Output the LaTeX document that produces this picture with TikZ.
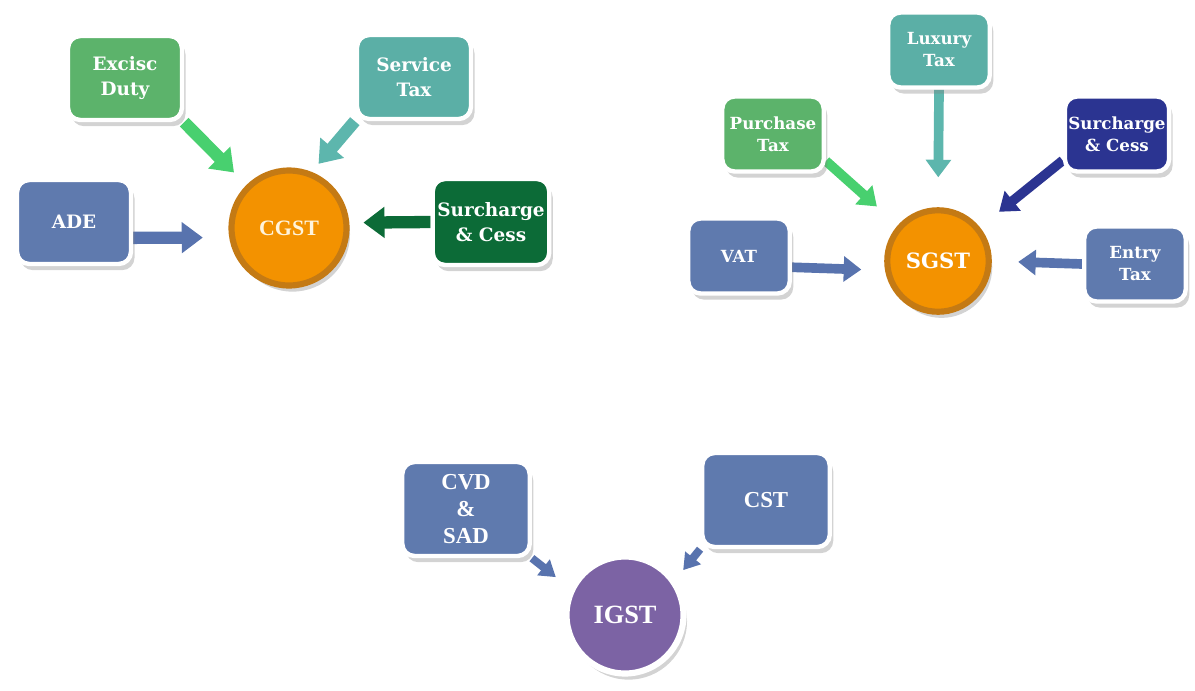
\documentclass[tikz,border=0pt]{standalone}
\usepackage{fontspec}
\usepackage{xcolor}
\usetikzlibrary{arrows.meta}
\usetikzlibrary{shadows}
\usetikzlibrary{backgrounds}
\newfontfamily\taxfont{DejaVu Serif}
\newfontfamily\romanfont{Liberation Serif}
\definecolor{taxgreen}{HTML}{5CB36B}
\definecolor{taxgreenarrow}{HTML}{48D06F}
\definecolor{taxteal}{HTML}{5BAFA6}
\definecolor{taxtealarrow}{HTML}{5DB6AD}
\definecolor{taxblue}{HTML}{5F7AAE}
\definecolor{taxbluearrow}{HTML}{5873AE}
\definecolor{cessgreen}{HTML}{0C6B37}
\definecolor{cessnavy}{HTML}{2B3491}
\definecolor{gstorange}{HTML}{F39200}
\definecolor{gstedge}{HTML}{C47A14}
\definecolor{gstpurple}{HTML}{7C63A4}
\definecolor{gsttext}{HTML}{FFF4DC}
\tikzset{
	taxbox/.style={rectangle, rounded corners=7pt, draw=white, line width=2.5pt, text=white, align=center, inner sep=2pt,
		drop shadow={shadow xshift=2pt, shadow yshift=-3.5pt, opacity=0.35}},
	cbox/.style={taxbox, minimum width=2.28cm, minimum height=1.68cm, font=\taxfont\bfseries\fontsize{10.5}{14}\selectfont},
	sbox/.style={taxbox, minimum width=2.03cm, minimum height=1.5cm, font=\taxfont\bfseries\fontsize{9.5}{12.5}\selectfont},
	ibox/.style={taxbox, minimum width=2.55cm, minimum height=1.88cm, font=\romanfont\bfseries\fontsize{13}{15.5}\selectfont},
	gst/.style={circle, line width=3.5pt, drop shadow={shadow xshift=2pt, shadow yshift=-3.5pt, opacity=0.35}},
	bigflow/.style={line width=7pt, -{Triangle[width=17pt,length=12pt]}},
	midflow/.style={line width=5.5pt, -{Triangle[width=14pt,length=10pt]}},
	smallflow/.style={line width=4.5pt, -{Triangle[width=11pt,length=9pt]}},
}

\begin{document}
\begin{tikzpicture}[x=0.02cm, y=-0.02cm]
	\useasboundingbox (0,0) rectangle (1195,690);
	% central taxes
	\node[gst, fill=gstorange, draw=gstedge, text=gsttext, minimum size=2.3cm, font=\romanfont\bfseries\fontsize{12.5}{14}\selectfont] (cgst) at (289,228) {CGST};
	\node[cbox, fill=taxgreen] (excisc) at (125,78) {Excisc\\Duty};
	\node[cbox, fill=taxteal] (service) at (414,77) {Service\\Tax};
	\node[cbox, fill=taxblue] (ade) at (74,222) {ADE};
	\node[cbox, fill=cessgreen, minimum width=2.33cm, minimum height=1.72cm] (surcone) at (491,222) {Surcharge\\\& Cess};
	
	% state taxes
	\node[gst, fill=gstorange, draw=gstedge, text=white, minimum size=2.03cm, font=\taxfont\bfseries\fontsize{12}{14}\selectfont] (sgst) at (938,261) {SGST};
	\node[sbox, fill=taxteal] (luxury) at (939,50) {Luxury\\Tax};
	\node[sbox, fill=taxgreen] (purchase) at (773,134) {Purchase\\Tax};
	\node[sbox, fill=cessnavy] (surctwo) at (1117,134) {Surcharge\\\& Cess};
	\node[sbox, fill=taxblue] (vat) at (739,256) {VAT};
	\node[sbox, fill=taxblue] (entry) at (1135,264) {Entry\\Tax};
	
	% integrated tax
	\node[gst, fill=gstpurple, draw=white, text=white, minimum size=2.34cm, font=\romanfont\bfseries\fontsize{15}{17}\selectfont] (igst) at (625,615) {IGST};
	\node[ibox, fill=taxblue] (cvd) at (466,509) {CVD\\\&\\SAD};
	\node[ibox, fill=taxblue] (cst) at (766,500) {CST};
	
	% arrows
	\begin{scope}[on background layer]
		\draw[bigflow, taxgreenarrow, shorten >=10pt] (excisc.south east) -- (cgst);
		\draw[bigflow, taxtealarrow, shorten >=6pt] (service.south west) -- (cgst.68);
		\draw[bigflow, taxbluearrow, shorten >=15pt] (ade.-15) -- (cgst.189);
		\draw[bigflow, cessgreen, shorten >=8pt] (surcone.west) -- (cgst.5);
		
		\draw[midflow, taxtealarrow, shorten >=17pt] (luxury.south) -- (sgst.north);
		\draw[midflow, taxgreenarrow, shorten >=16pt] (purchase.-27) -- (sgst);
		\draw[midflow, cessnavy, shorten >=14pt] (surctwo.206) -- (sgst);
		\draw[midflow, taxbluearrow, shorten >=13.5pt] (vat.-12) -- (sgst.190);
		\draw[midflow, taxbluearrow, shorten >=15pt] (entry.west) -- (sgst.east);
		
		\draw[smallflow, taxbluearrow, shorten >=10pt] (cvd.south east) -- (igst.154);
		\draw[smallflow, taxbluearrow, shorten >=7pt] (cst.south west) -- (igst.35);
	\end{scope}
\end{tikzpicture}
\end{document}
